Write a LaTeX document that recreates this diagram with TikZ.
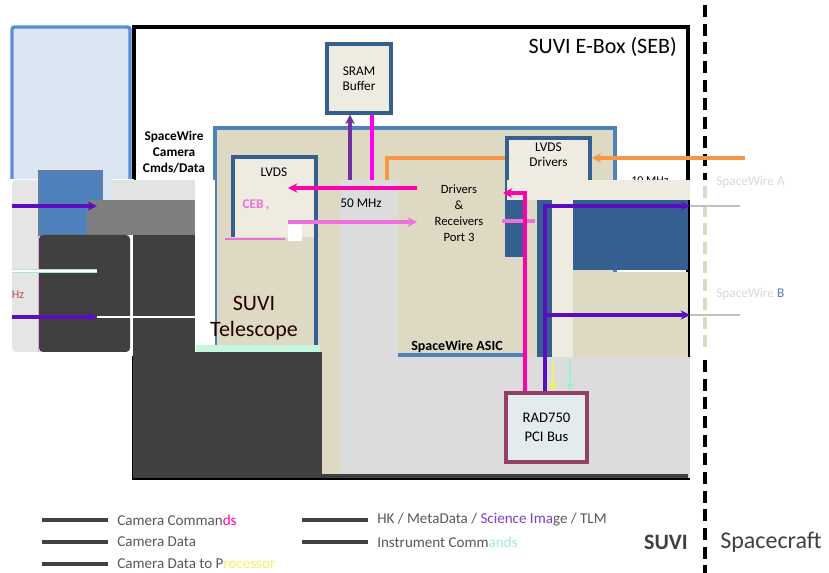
\documentclass[tikz,border=0pt]{standalone}
\usepackage{fontspec}
\setmainfont{Carlito}
\usetikzlibrary{positioning, arrows.meta}

\definecolor{boxblue}{HTML}{365F91}
\definecolor{asicblue}{HTML}{4F81BD}
\definecolor{edgeblue}{HTML}{5A8ED2}
\definecolor{paleblue}{HTML}{DCE6F2}
\definecolor{beige}{HTML}{DDD9C3}
\definecolor{paper}{HTML}{EEECE1}
\definecolor{panel}{HTML}{DCDCDC}
\definecolor{darkpanel}{HTML}{404040}
\definecolor{midpanel}{HTML}{7F7F7F}
\definecolor{cmdpink}{HTML}{FF00AA}
\definecolor{srampink}{HTML}{FF00EE}
\definecolor{datapink}{HTML}{EE70DA}
\definecolor{srampurple}{HTML}{7030A0}
\definecolor{tlmpurple}{HTML}{5A0FBE}
\definecolor{sworange}{HTML}{F79646}
\definecolor{procyellow}{HTML}{F4F060}
\definecolor{instgreen}{HTML}{9FF0C8}
\definecolor{cpuframe}{HTML}{943F65}
\definecolor{cpufill}{HTML}{E2ECEC}
\definecolor{legtext}{HTML}{595959}

\begin{document}
\begin{tikzpicture}[
    x=0.75pt, y=-0.75pt,
    >={Stealth[length=7pt,width=7pt]},
    font=\fontsize{10}{12}\selectfont
]

\tikzstyle{unit}=[draw=boxblue, line width=2.6pt, fill=paper, align=center, inner sep=0pt]
\tikzstyle{cpu}=[draw=cpuframe, line width=2.6pt, fill=cpufill, align=center, inner sep=0pt,
    font=\fontsize{11}{14}\selectfont]
\tikzstyle{link}=[line width=2.3pt]
\tikzstyle{legline}=[draw=darkpanel, line width=2.4pt]
\tikzstyle{legend}=[anchor=west, text=legtext, font=\fontsize{11.3}{13}\selectfont, inner sep=0pt]

\useasboundingbox (0,0) rectangle (829,573);
\fill[white] (0,0) rectangle (829,573);

% instrument box on the left
\draw[draw=edgeblue, fill=paleblue, line width=2.6pt, rounded corners=2pt] (12,27) rectangle (130,352);

% electronics box
\draw[line width=3pt] (134,27) rectangle (688,478);
\node[anchor=north east, font=\fontsize{16.5}{18}\selectfont, inner sep=0pt] (ebox) at (677,37) {SUVI E-Box (SEB)};

% spacewire asic area
\draw[draw=asicblue, fill=beige, line width=2.6pt] (215,128) rectangle (615,355);

\node[unit, minimum width=48pt, minimum height=51.75pt] (sram) at (359,78.5) {SRAM\\[-1pt]Buffer};

% camera side lvds
\fill[paper] (233,157) rectangle (316,237);
\draw[boxblue, line width=2.6pt] (233,237) -- (233,157) -- (316,157) -- (316,350);
\node (lvdsl) at (274,172) {LVDS};

% spacecraft side lvds
\node[unit, minimum width=62.25pt, minimum height=87.75pt] (lvdsr) at (548.5,196.5) {};
\node[align=center, below=5pt of lvdsr.north, inner sep=0pt] (lvdsrtxt) {LVDS\\[-1pt]Drivers};

\node[anchor=north, font=\fontsize{9}{9}\selectfont, inner sep=0pt] (tenmhz) at (650,176) {10 MHz};

% damaged strips
\fill[panel] (340,180) rectangle (398,478);
\fill[panel] (320,357) rectangle (690,478);
\fill[beige] (320,180) rectangle (340,478);
\fill[paper] (507,180) rectangle (690,200);
\fill[boxblue] (507,200) rectangle (523,255);
\fill[beige] (523,200) rectangle (537,357);
\fill[boxblue] (537,200) rectangle (552,357);
\fill[paper] (552,180) rectangle (573,357);
\fill[boxblue] (573,200) rectangle (688,270);
\fill[beige] (573,272) rectangle (688,357);
\draw[darkpanel, line width=3pt] (322,476) -- (688,476);

\fill[white] (195,180) rectangle (215,352);
\fill[instgreen!60] (196,345) rectangle (320,352);
\fill[white] (288,224) rectangle (302,241);
\draw[datapink, line width=0.8pt] (225,239) -- (285,239);

\fill[white] (9,179) rectangle (134,356);
\fill[gray!20, rounded corners=3pt] (12,180) rectangle (44,352);
\draw[datapink!70, line width=0.6pt] (38,180) -- (38,352);
\fill[paleblue] (102,179) rectangle (112,200);
\draw[draw=boxblue!80, fill=asicblue, line width=1.5pt] (39,171) rectangle (102,235);
\fill[gray!22] (112,180) rectangle (195,200);
\fill[midpanel] (87,200) rectangle (195,235);
\fill[darkpanel, rounded corners=3pt] (39,235) rectangle (130,352);
\fill[darkpanel] (133,235) rectangle (195,478);
\fill[darkpanel] (195,352) rectangle (322,478);
\draw[white, line width=1pt] (97,317) -- (195,317);

% spacecraft boundary
\draw[line width=2.4pt, dash pattern=on 9pt off 5pt] (705,5) -- (705,180);
\draw[beige, line width=2.4pt, dash pattern=on 9pt off 5pt] (705,186) -- (705,352);
\draw[line width=2.4pt, dash pattern=on 9pt off 5pt] (705,360) -- (705,573);

\node[cpu, minimum width=60.75pt, minimum height=51.75pt] (cpu) at (546.5,427.5) {RAD750\\PCI Bus};

% named ends
\coordinate (scA) at (745,158);
\coordinate (orangeturn) at (387,158);
\coordinate (orangecut) at (387,180);
\coordinate (sramcutP) at (350,180);
\coordinate (sramcutM) at (372,180);
\coordinate (drvtx) at (417,188);
\coordinate (drvrx) at (417,222);
\coordinate (lvdsltx) at (288,188);
\coordinate (lvdslrx) at (288,222);
\coordinate (cmdturn) at (525,193);
\coordinate (cmdhead) at (503,193);
\coordinate (tlmturn) at (545,206);
\coordinate (tlmA) at (690,206);
\coordinate (tlmB) at (690,315);
\coordinate (tlmBstart) at (545,315);
\coordinate (procstart) at (553,360);
\coordinate (inststart) at (570,360);
\coordinate (camA) at (12,206);
\coordinate (camAend) at (97,206);
\coordinate (camB) at (12,317);
\coordinate (camBend) at (97,317);

% connectors
\draw[sworange, link, ->] (scA) -- (lvdsr.east |- scA);
\draw[sworange, link] (lvdsr.west |- scA) -- (orangeturn) -- (orangecut);
\draw[srampurple, link, ->] (sramcutP) -- (sram.south -| sramcutP);
\draw[srampink, link] (sram.south -| sramcutM) -- (sramcutM);
\draw[cmdpink, link, ->] (drvtx) -- (lvdsltx);
\draw[datapink, link, ->] (lvdslrx) -- (drvrx);
\draw[datapink, link] (502,221) -- (535,221);
\draw[cmdpink, link, ->] (cpu.north -| cmdturn) -- (cmdturn) -- (cmdhead);
\draw[tlmpurple, link, ->] (cpu.north -| tlmturn) -- (tlmturn) -- (tlmA);
\draw[tlmpurple, link, ->] (tlmBstart) -- (tlmB);
\draw[procyellow, line width=1pt, -{Stealth[length=7pt,width=7pt,open]}] (procstart) -- (cpu.north -| procstart);
\draw[instgreen, line width=1pt, -{Stealth[length=7pt,width=7pt,open]}] (inststart) -- (cpu.north -| inststart);
\draw[gray!50, line width=1.2pt] (tlmA) -- ++(50,0);
\draw[gray!50, line width=1.2pt] (tlmB) -- ++(50,0);
\draw[tlmpurple, link, ->] (camA) -- (camAend);
\draw[tlmpurple, link, ->] (camB) -- (camBend);
\draw[instgreen, line width=2.4pt] (12,271) -- (97,271);
\draw[white, line width=0.8pt] (12,271) -- (97,271);

% labels
\node[align=center, font=\bfseries\fontsize{10}{12}\selectfont] (swcam) at (174,152) {SpaceWire\\Camera\\Cmds/Data};
\node[text=datapink, font=\bfseries\fontsize{10}{12}\selectfont] (ceb) at (256,205) {CEB\,,};
\node (fifty) at (361,203) {50 MHz};
\node[align=center, font=\fontsize{9.5}{12}\selectfont] (ports) at (459,213) {Drivers\\\&\\Receivers\\Port 3};
\node[align=center, text=black!85!red, font=\fontsize{16.5}{20}\selectfont] (scope) at (254,318) {SUVI\\Telescope};
\node[font=\bfseries\fontsize{10.5}{12}\selectfont] (asic) at (457,347) {SpaceWire ASIC};
\node[text=red!40!gray, font=\fontsize{9}{10}\selectfont] (hz) at (18,295) {Hz};
\node[anchor=west, text=gray!30, inner sep=0pt] (swA) at (716,182) {SpaceWire A};
\node[anchor=west, text=gray!30, inner sep=0pt] (swB) at (716,294) {SpaceWire \textcolor{asicblue}{B}};

% legend
\node[legend] (lgcmd) at (117,520) {Camera Comman\textcolor{cmdpink}{ds}};
\node[legend] (lgdata) at (117,542) {Camera Data};
\node[legend] (lgproc) at (117,564) {Camera Data to P\textcolor{procyellow}{rocessor}};
\node[legend] (lgtlm) at (377,520) {HK / MetaData / \textcolor{tlmpurple!80}{Science Ima}ge / TLM};
\node[legend] (lginst) at (377,542) {Instrument Comm\textcolor{instgreen}{ands}};
\foreach \n in {lgcmd, lgdata, lgproc, lginst, lgtlm}
    \draw[legline] ([xshift=-7pt]\n.west) -- ++(-66,0);

\node[text=darkpanel, font=\bfseries\fontsize{16.5}{18}\selectfont] (suvi) at (666,542) {SUVI};
\node[text=darkpanel, font=\fontsize{18}{20}\selectfont] (craft) at (771,542) {Spacecraft};

\end{tikzpicture}
\end{document}
